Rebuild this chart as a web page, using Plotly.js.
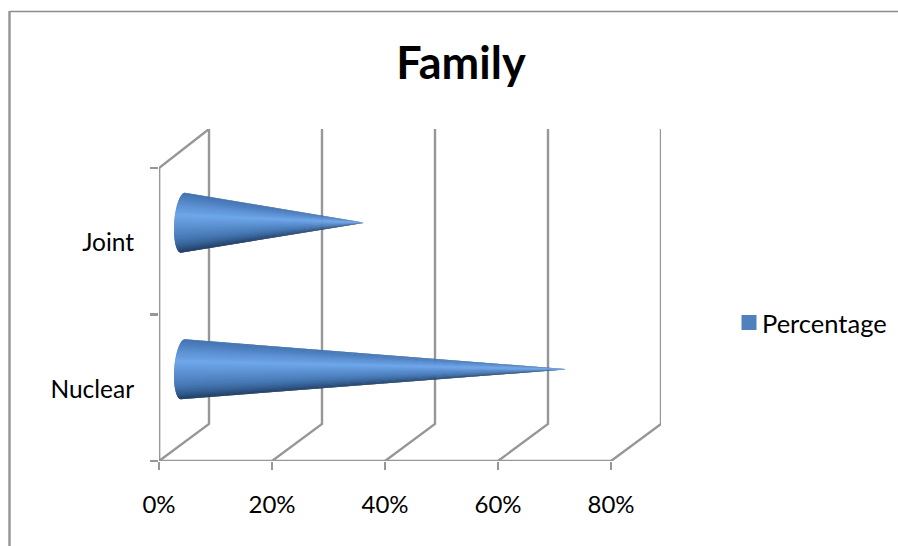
<!DOCTYPE html>
<html>
<head>
<meta charset="utf-8">
<script src="https://cdn.plot.ly/plotly-3.0.1.min.js"></script>
<style>html,body{margin:0;padding:0;background:#fff}#chart{width:898px;height:546px}</style>
</head>
<body>
<div id="chart"></div>
<script>
// Chart content
const chartTitle = 'Family';
const seriesName = 'Percentage';
const categories = ['Nuclear', 'Joint'];
const percentages = [68, 32];
const axisTicks = [0, 20, 40, 60, 80];
const axisTickText = ['0%', '20%', '40%', '60%', '80%'];

// Canvas geometry, px
const W = 898, H = 546;
const plotLeft = 159, plotRight = 661, plotBottom = 461, plotTop = 129;
const pxPerPercent = (611 - 159) / 80;
const pxPerCategory = (461 - 168) / categories.length;

// Oblique projection of the box depth, in axis units
const depthX = 50 / pxPerPercent;
const depthY = 37 / pxPerCategory;
const xMax = (plotRight - plotLeft) / pxPerPercent;
const yMax = (plotBottom - plotTop) / pxPerCategory;
const wallTop = yMax;

// Cone base ellipse, in axis units
const baseHalfWidth = 8.8 / pxPerPercent;
const baseShear = 2 / pxPerPercent;
const baseHalfHeight = 30 / pxPerCategory;
const STRIPS = 48;

const gridColor = '#979797';
const gridWidth = 2.4;
const legendColor = '#4F81BD';
const textColor = '#000000';
const fontFamily = 'Lato, "Open Sans", sans-serif';

// Surface shading from the top of the cone (0) to the bottom (1)
const highlightAt = 0.42;
const shadeStops = [
  [0.00, [60, 108, 166]],
  [0.20, [78, 128, 192]],
  [highlightAt, [110, 166, 234]],
  [0.68, [70, 120, 180]],
  [0.88, [38, 72, 116]],
  [1.00, [24, 48, 80]]
];

function shade(s) {
  for (let i = 1; i < shadeStops.length; i++) {
    const [s0, c0] = shadeStops[i - 1];
    const [s1, c1] = shadeStops[i];
    if (s <= s1) {
      const k = (s - s0) / (s1 - s0);
      const c = c0.map((v, j) => Math.round(v + (c1[j] - v) * k));
      return `rgb(${c.join(',')})`;
    }
  }
  return 'rgb(24,48,80)';
}

const traces = [];

function gridLine(xs, ys) {
  traces.push({
    type: 'scatter', mode: 'lines', x: xs, y: ys,
    line: {color: gridColor, width: gridWidth}, showlegend: false, hoverinfo: 'skip'
  });
}

// Left wall, floor edge, and the wall and floor lines at each tick
gridLine([0, 0, depthX], [0, categories.length, wallTop]);
gridLine([axisTicks[0], axisTicks[axisTicks.length - 1]], [0, 0]);
axisTicks.forEach(t => {
  gridLine([t, t + depthX, t + depthX], [0, depthY, wallTop]);
});

// Each cone is a fan of thin triangles from the curved base to the tip.
// Strips paint from the dark edges in to the highlight, each one reaching
// under its inner neighbour so no seams appear between them.
percentages.forEach((value, idx) => {
  const cx = depthX / 2 - 1 / pxPerPercent;
  const cy = idx + 0.5 + depthY / 2;
  const tipX = value + depthX / 2;
  const pointAt = i => {
    const a = Math.PI / 2 - Math.PI * i / STRIPS;
    return [
      cx - baseHalfWidth * Math.cos(a) + baseShear * Math.sin(a),
      cy + baseHalfHeight * Math.sin(a)
    ];
  };
  const order = [];
  for (let i = 0; i < STRIPS; i++) order.push(i);
  const sOf = i => (i + 0.5) / STRIPS;
  order.sort((a, b) => Math.abs(sOf(b) - highlightAt) - Math.abs(sOf(a) - highlightAt));
  order.forEach(i => {
    const upper = sOf(i) < highlightAt;
    const from = upper ? Math.max(i, 0) : i;
    const to = upper ? i + 2 : i + 1;
    const start = upper ? from : Math.max(i - 1, 0);
    const pts = [];
    for (let k = start; k <= to; k++) pts.push(pointAt(k));
    const color = shade(sOf(i));
    traces.push({
      type: 'scatter', mode: 'lines', fill: 'toself', fillcolor: color,
      x: pts.map(p => p[0]).concat([tipX, pts[0][0]]),
      y: pts.map(p => p[1]).concat([cy, pts[0][1]]),
      line: {width: 0},
      showlegend: false, hoverinfo: 'skip'
    });
  });
});

// Legend entry for the series
traces.push({
  type: 'scatter', mode: 'markers', name: seriesName, x: [null], y: [null],
  marker: {symbol: 'square', size: 15, color: legendColor}, showlegend: true
});

// Category tick marks sit on an overlaid axis so the names can stay centred
traces.push({
  type: 'scatter', mode: 'lines', x: [0, 0], y: [0, categories.length], yaxis: 'y2',
  line: {color: gridColor, width: gridWidth}, showlegend: false, hoverinfo: 'skip'
});

const layout = {
  width: W, height: H,
  margin: {l: 0, r: 0, t: 0, b: 0},
  paper_bgcolor: '#ffffff', plot_bgcolor: 'rgba(0,0,0,0)',
  font: {family: fontFamily, color: textColor, size: 24},
  title: {
    text: chartTitle, x: 461 / W, xanchor: 'center', xref: 'paper',
    y: 1 - 63 / H, yanchor: 'middle', yref: 'paper',
    font: {family: fontFamily, size: 45, weight: 700, color: textColor}
  },
  xaxis: {
    domain: [plotLeft / W, plotRight / W], range: [0, xMax],
    tickmode: 'array', tickvals: axisTicks, ticktext: axisTickText,
    ticks: 'outside', ticklen: 8, tickwidth: gridWidth, tickcolor: gridColor,
    ticklabelstandoff: 14,
    showgrid: false, zeroline: false, showline: false,
    tickfont: {family: fontFamily, size: 24, color: textColor}, fixedrange: true
  },
  yaxis: {
    domain: [1 - plotBottom / H, 1 - plotTop / H], range: [0, yMax],
    tickmode: 'array', tickvals: [0.49, 1.49], ticktext: categories,
    ticks: 'outside', ticklen: 19, tickwidth: 1, tickcolor: 'rgba(0,0,0,0)',
    showgrid: false, zeroline: false, showline: false,
    tickfont: {family: fontFamily, size: 24.5, color: textColor}, fixedrange: true
  },
  yaxis2: {
    domain: [1 - plotBottom / H, 1 - plotTop / H], range: [0, yMax],
    overlaying: 'y', anchor: 'x', side: 'left',
    tickmode: 'array', tickvals: [0, 1, 2], showticklabels: false,
    ticks: 'outside', ticklen: 8, tickwidth: gridWidth, tickcolor: gridColor,
    showgrid: false, zeroline: false, showline: false, fixedrange: true
  },
  legend: {
    x: 722 / W, xanchor: 'left', y: 1 - 323 / H, yanchor: 'middle',
    bgcolor: 'rgba(0,0,0,0)', itemwidth: 30,
    font: {family: fontFamily, size: 25.5, color: textColor}
  },
  shapes: [
    {type: 'line', xref: 'paper', yref: 'paper', x0: 9.5 / W, x1: 1, y0: 1 - 11.5 / H, y1: 1 - 11.5 / H,
     line: {color: '#8c8c8c', width: 1.5}},
    {type: 'line', xref: 'paper', yref: 'paper', x0: 9.5 / W, x1: 9.5 / W, y0: 0, y1: 1 - 11 / H,
     line: {color: '#979797', width: 2.5}}
  ]
};

Plotly.newPlot('chart', traces, layout, {displayModeBar: false, staticPlot: true}).then(gd => {
  // Tighten the gap between the legend swatch and its label
  gd.querySelectorAll('.legend .legendpoints').forEach(g => {
    g.setAttribute('transform', 'translate(7,0)');
  });
});
</script>
</body>
</html>
